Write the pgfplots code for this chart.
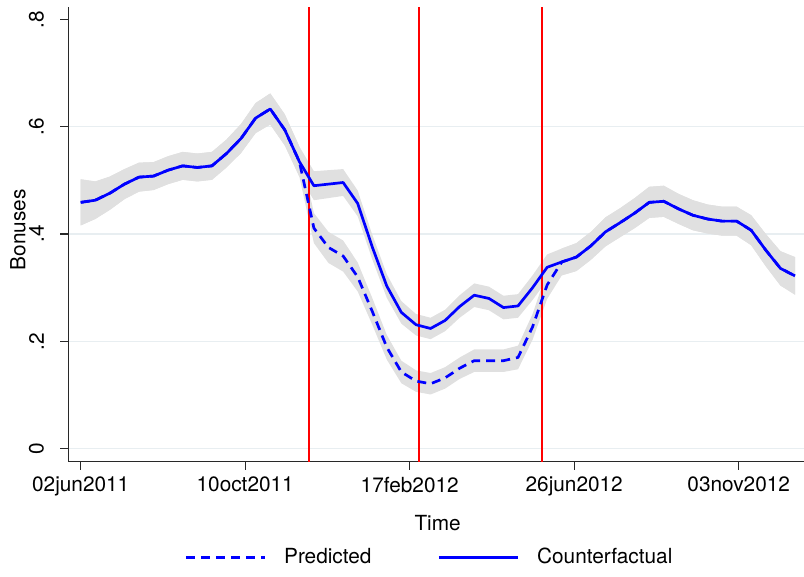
\documentclass[border=0pt]{standalone}
\usepackage{fontspec}
\setmainfont{TeX Gyre Heros}
\usepackage{pgfplots}
\pgfplotsset{compat=1.18}
\usepgfplotslibrary{fillbetween}
\usepackage{pgfplotstable}

\definecolor{bandgray}{RGB}{224,224,224}
\definecolor{gridblue}{RGB}{232,238,241}
\definecolor{axisgray}{RGB}{40,40,40}

% x: days since 02jun2011; cf = counterfactual, pr = predicted, with 95% bands
\pgfplotstableread{
x     cf    cflo  cfhi  pr    prlo  prhi
0.0   0.459 0.416 0.502 0.459 0.416 0.502
11.5  0.463 0.428 0.498 0.463 0.428 0.498
23.0  0.476 0.445 0.507 0.476 0.445 0.507
34.6  0.493 0.465 0.521 0.493 0.465 0.521
46.1  0.506 0.479 0.533 0.506 0.479 0.533
57.6  0.508 0.482 0.534 0.508 0.482 0.534
69.1  0.519 0.493 0.545 0.519 0.493 0.545
80.6  0.527 0.501 0.553 0.527 0.501 0.553
92.2  0.524 0.498 0.550 0.524 0.498 0.550
103.7 0.527 0.501 0.553 0.527 0.501 0.553
115.2 0.550 0.524 0.576 0.550 0.524 0.576
126.7 0.578 0.551 0.605 0.578 0.551 0.605
138.2 0.616 0.588 0.644 0.616 0.588 0.644
149.8 0.633 0.604 0.662 0.633 0.604 0.662
161.3 0.594 0.565 0.623 0.594 0.565 0.623
172.8 0.535 0.507 0.563 0.535 0.507 0.563
184.3 0.490 0.463 0.517 0.411 0.383 0.439
195.8 0.493 0.467 0.519 0.375 0.346 0.404
207.4 0.496 0.471 0.521 0.359 0.330 0.388
218.9 0.457 0.433 0.481 0.320 0.293 0.347
230.4 0.376 0.353 0.399 0.256 0.231 0.281
241.9 0.303 0.281 0.325 0.189 0.166 0.212
253.4 0.254 0.233 0.275 0.143 0.122 0.164
265.0 0.231 0.211 0.251 0.126 0.106 0.146
276.5 0.224 0.204 0.244 0.121 0.101 0.141
288.0 0.239 0.219 0.259 0.132 0.112 0.152
299.5 0.265 0.244 0.286 0.150 0.130 0.170
311.0 0.286 0.264 0.308 0.164 0.143 0.185
322.6 0.280 0.258 0.302 0.164 0.143 0.185
334.1 0.263 0.241 0.285 0.164 0.143 0.185
345.6 0.266 0.244 0.288 0.170 0.148 0.192
357.1 0.300 0.277 0.323 0.227 0.203 0.251
368.6 0.338 0.314 0.362 0.305 0.279 0.331
380.2 0.348 0.323 0.373 0.348 0.323 0.373
391.7 0.357 0.331 0.383 0.357 0.331 0.383
403.2 0.378 0.352 0.404 0.378 0.352 0.404
414.7 0.404 0.377 0.431 0.404 0.377 0.431
426.2 0.421 0.394 0.448 0.421 0.394 0.448
437.8 0.439 0.411 0.467 0.439 0.411 0.467
449.3 0.459 0.430 0.488 0.459 0.430 0.488
460.8 0.461 0.432 0.490 0.461 0.432 0.490
472.3 0.447 0.419 0.475 0.447 0.419 0.475
483.8 0.435 0.407 0.463 0.435 0.407 0.463
495.4 0.428 0.401 0.455 0.428 0.401 0.455
506.9 0.424 0.397 0.451 0.424 0.397 0.451
518.4 0.424 0.397 0.451 0.424 0.397 0.451
529.9 0.407 0.379 0.435 0.407 0.379 0.435
541.4 0.370 0.340 0.400 0.370 0.340 0.400
553.0 0.336 0.304 0.368 0.336 0.304 0.368
564.5 0.322 0.287 0.357 0.322 0.287 0.357
}\bonus

\newcommand{\lblfont}{\fontsize{10.4}{12}\selectfont}

\begin{document}
\begin{tikzpicture}
\begin{axis}[
  at={(34.15pt,57.65pt)}, anchor=south west,
  scale only axis, width=367.85pt, height=227.5pt,
  xmin=-9.8, xmax=571.6, ymin=-0.0242, ymax=0.8236,
  axis x line*=bottom, axis y line*=left,
  axis line style={axisgray, line width=0.6pt, -},
  tick align=outside, major tick length=4pt,
  tick style={axisgray, line width=0.6pt},
  xtick={0,130,260,390,520},
  xticklabels={02jun2011,10oct2011,17feb2012,26jun2012,03nov2012},
  ytick={0,0.2,0.4,0.6},
  yticklabels={0,.2,.4,.6},
  extra y ticks={0.8}, extra y tick labels={.8},
  extra y tick style={grid=none},
  ymajorgrids, grid style={gridblue, line width=0.6pt},
  xticklabel style={font=\lblfont, inner sep=0pt, anchor=north, yshift=-3.5pt},
  yticklabel style={font=\lblfont, rotate=90, anchor=south, inner xsep=0pt, inner ysep=8pt},
  xlabel={Time}, ylabel={Bonuses},
  xlabel style={font=\lblfont, at={(axis description cs:0.502,-0.1347)}, anchor=center},
  ylabel style={font=\lblfont, at={(axis description cs:-0.0684,0.51)}, anchor=center},
  legend style={at={(axis description cs:0.1573,-0.2105)}, anchor=west,
    draw=none, fill=none, legend columns=2, font=\lblfont, inner sep=0pt,
    nodes={inner sep=0pt},
    /tikz/every odd column/.append style={column sep=9pt},
    /tikz/every even column/.append style={column sep=33pt}},
  legend image code/.code={\draw[#1] (0pt,0pt) -- (39.5pt,0pt);},
]
% confidence bands
\addplot[draw=none, name path=prl, forget plot] table[x=x, y=prlo]{\bonus};
\addplot[draw=none, name path=prh, forget plot] table[x=x, y=prhi]{\bonus};
\addplot[bandgray, forget plot] fill between[of=prl and prh];
\addplot[draw=none, name path=cfl, forget plot] table[x=x, y=cflo]{\bonus};
\addplot[draw=none, name path=cfh, forget plot] table[x=x, y=cfhi]{\bonus};
\addplot[bandgray, forget plot] fill between[of=cfl and cfh];
% policy dates
\addplot[red, line width=1.1pt, forget plot] coordinates {(180.4,-0.0242) (180.4,0.8236)};
\addplot[red, line width=1.1pt, forget plot] coordinates {(267.3,-0.0242) (267.3,0.8236)};
\addplot[red, line width=1.1pt, forget plot] coordinates {(364.3,-0.0242) (364.3,0.8236)};
% series
\addplot[blue, line width=1.35pt, line join=round, dash pattern=on 4.5pt off 3pt] table[x=x, y=pr]{\bonus};
\addlegendentry{Predicted}
\addplot[blue, line width=1.35pt, line join=round] table[x=x, y=cf]{\bonus};
\addlegendentry{Counterfactual}
\end{axis}
\pgfresetboundingbox
\path[use as bounding box] (0pt,0pt) rectangle (402pt,288.5pt);
\end{tikzpicture}
\end{document}
